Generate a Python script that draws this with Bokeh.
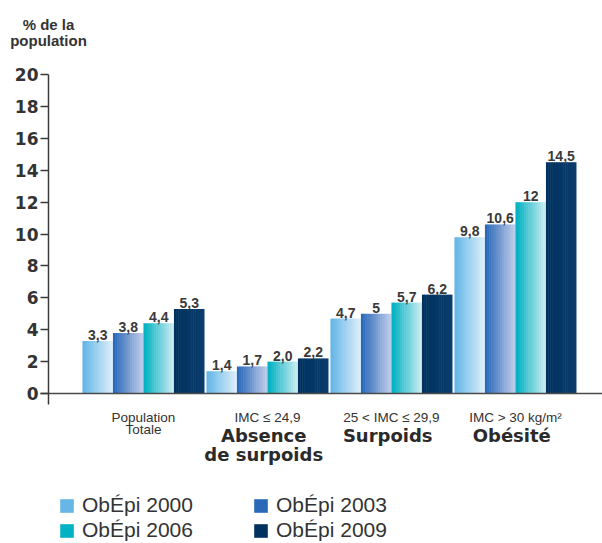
import numpy as np
from bokeh.plotting import figure
from bokeh.models import (Range1d, FixedTicker, Label, Legend, LegendItem,
                          ColumnDataSource, LinearAxis)
from bokeh.core.properties import value
from bokeh.embed import file_html
from bokeh.resources import INLINE

# ---------------- data ----------------
categories = ["Population\nTotale", "IMC \u2264 24,9", "25 < IMC \u2264 29,9", "IMC > 30 kg/m\u00b2"]
groups = ["", "Absence\nde surpoids", "Surpoids", "Ob\u00e9sit\u00e9"]
series = ["Ob\u00c9pi 2000", "Ob\u00c9pi 2003", "Ob\u00c9pi 2006", "Ob\u00c9pi 2009"]
v2000 = [3.3, 1.4, 4.7, 9.8]
v2003 = [3.8, 1.7, 5.0, 10.6]
v2006 = [4.4, 2.0, 5.7, 12.0]
v2009 = [5.3, 2.2, 6.2, 14.5]
lab2000 = ["3,3", "1,4", "4,7", "9,8"]
lab2003 = ["3,8", "1,7", "5", "10,6"]
lab2006 = ["4,4", "2,0", "5,7", "12"]
lab2009 = ["5,3", "2,2", "6,2", "14,5"]
yticks = [0, 2, 4, 6, 8, 10, 12, 14, 16, 18, 20]

values = [v2000, v2003, v2006, v2009]
labels = [lab2000, lab2003, lab2006, lab2009]

# ---------------- styles ----------------
grad = [("#66b6e6", "#d8edfa"),
        ("#2a69b8", "#bccaea"),
        ("#00b2c2", "#c8eaef"),
        ("#01325f", "#0a3c6c")]
BAR_W = 0.242
PITCH = 0.246
NSTRIP = 14
TXT = "#333333"
X0, X1 = -1.153, 3.702
Y0, Y1 = -9.40, 24.64
AXIS_X = -0.766


def hex2rgb(h):
    h = h.lstrip("#")
    return np.array([int(h[i:i + 2], 16) for i in (0, 2, 4)], dtype=float)


def rgb2hex(c):
    return "#%02x%02x%02x" % tuple(int(round(v)) for v in c)


p = figure(width=602, height=543,
           x_range=Range1d(X0, X1), y_range=Range1d(Y0, Y1),
           x_axis_location=None, output_backend="svg", toolbar_location=None,
           min_border_left=0, min_border_right=0, min_border_top=0,
           min_border_bottom=0)
p.grid.visible = False
p.outline_line_color = None

xs = np.arange(len(categories))
renderers = []
for s, (vals, (c0, c1)) in enumerate(zip(values, grad)):
    off = (s - 1.5) * PITCH
    sw = BAR_W / NSTRIP
    sx, st, sc = [], [], []
    a, b = hex2rgb(c0), hex2rgb(c1)
    for i, v in enumerate(vals):
        for k in range(NSTRIP):
            t = k / (NSTRIP - 1)
            sx.append(xs[i] + off - BAR_W / 2 + (k + 0.5) * sw)
            st.append(v)
            sc.append(rgb2hex(a + (b - a) * t))
    src = ColumnDataSource(dict(x=sx, top=st, color=sc))
    r = p.vbar(x="x", top="top", bottom=0, width=sw * 1.25, source=src,
               fill_color="color", line_color=None)
    renderers.append(r)
    p.text(x=list(xs + off), y=vals, text=labels[s], text_align="center",
           text_baseline="bottom", y_offset=-1,
           text_font=value("Liberation Sans"), text_font_style="bold",
           text_font_size="14px", text_color="#3a3a3a")

# x axis line (no ticks)
xax = LinearAxis(fixed_location=0, bounds=(-0.831, X1),
                 ticker=FixedTicker(ticks=[]), axis_line_color="#4a4a4a",
                 axis_line_width=1.5, major_label_text_font_size="0px",
                 major_tick_line_color=None, minor_tick_line_color=None)
p.add_layout(xax, "below")

# y axis
ax = p.yaxis[0]
ax.fixed_location = AXIS_X
ax.ticker = FixedTicker(ticks=yticks)
ax.bounds = (-0.7, 20)
ax.axis_line_color = "#3a3a3a"
ax.axis_line_width = 1.5
ax.major_tick_line_color = "#3a3a3a"
ax.major_tick_line_width = 1.5
ax.major_tick_out = 8
ax.major_tick_in = 0
ax.minor_tick_line_color = None
ax.major_label_text_font = "DejaVu Sans"
ax.major_label_text_font_style = "bold"
ax.major_label_text_font_size = "17px"
ax.major_label_text_color = TXT
ax.major_label_standoff = 2

# category labels
p.text(x=list(xs), y=[-1.0] * 4, text=categories, text_align="center",
       text_baseline="top", text_font=value("Liberation Sans"),
       text_font_size="13.5px", text_color=TXT, text_line_height=0.85)
p.text(x=list(xs - 0.03), y=[-1.95] * 4, text=groups, text_align="center",
       text_baseline="top", text_font=value("DejaVu Sans"),
       text_font_style="bold", text_font_size="18px", text_color="#2a2a2a",
       text_line_height=0.9)

# y title
p.add_layout(Label(x=AXIS_X, y=23.65, text="% de la\npopulation",
                   text_align="center", text_baseline="top",
                   text_font="Liberation Sans", text_font_style="bold",
                   text_font_size="15px", text_color=TXT,
                   text_line_height=0.95))

# legend (column-major order -> rows 2000/2003, 2006/2009)
order = [0, 2, 1, 3]
items = [LegendItem(label=series[s], renderers=[renderers[s]], index=0)
         for s in order]
leg = Legend(items=items, ncols=2, location=(58, 1),
             glyph_width=17, glyph_height=17, label_height=17,
             label_width=169, spacing=1, label_standoff=7, padding=0,
             margin=0, border_line_color=None, background_fill_alpha=0,
             label_text_font="Liberation Sans", label_text_font_size="21px",
             label_text_color=TXT, label_text_baseline="middle")
p.add_layout(leg)

open("out.html", "w").write(file_html(p, INLINE))
